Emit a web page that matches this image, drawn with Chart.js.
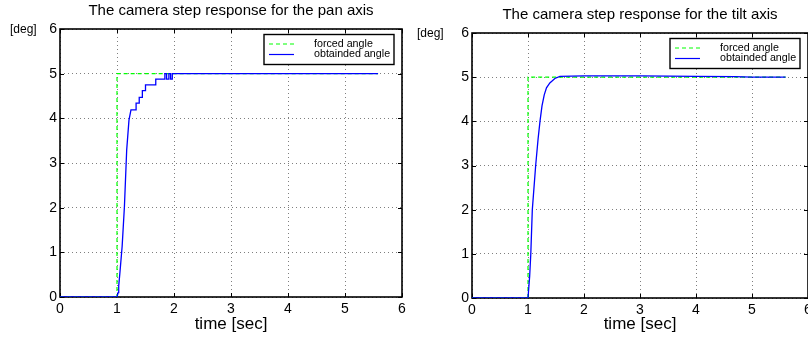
<!DOCTYPE html>
<html lang="en">
<head>
<meta charset="UTF-8">
<title>Camera step response</title>
<script src="https://cdn.jsdelivr.net/npm/chart.js"></script>
<style>
  html, body { margin: 0; padding: 0; background: #fff; overflow: hidden; }
  body { width: 808px; height: 339px; position: relative; }
  canvas { position: absolute; top: 0; }
  #panChart { left: 0; }
  #tiltChart { left: 404px; }
</style>
</head>
<body>
<canvas id="panChart" width="406" height="339"></canvas>
<canvas id="tiltChart" width="420" height="339"></canvas>

<script>
// values
const seriesLabels = ['forced angle', 'obtainded angle'];
const xTicks = [0, 1, 2, 3, 4, 5, 6];
const yTicks = [0, 1, 2, 3, 4, 5, 6];

const panForcedTime = [0, 1, 1, 5.58];
const panForcedAngle = [0, 0, 5, 5];
const panTime = [0, 1.0, 1.02, 1.03, 1.05, 1.09, 1.13, 1.17, 1.21, 1.245, 1.335, 1.335, 1.39, 1.39,
  1.445, 1.445, 1.5, 1.5, 1.68, 1.68, 1.84, 1.84, 1.87, 1.87, 1.91, 1.91, 1.94, 1.94, 1.97, 1.97, 5.58];
const panAngle = [0, 0, 0.1, 0.25, 0.53, 1.13, 2.02, 3.29, 3.96, 4.19, 4.19, 4.34, 4.34, 4.47,
  4.47, 4.62, 4.62, 4.75, 4.75, 4.88, 4.88, 5.0, 5.0, 4.88, 4.88, 5.0, 5.0, 4.88, 4.88, 5.0, 5.0];

const tiltForcedTime = [0, 1, 1, 5.6];
const tiltForcedAngle = [0, 0, 5, 5];
const tiltTime = [0, 1.0, 1.03, 1.05, 1.077, 1.137, 1.18, 1.214, 1.25, 1.29, 1.33, 1.39, 1.48, 1.57, 2.0, 3.0, 4.0, 4.7, 5.0, 5.6];
const tiltAngle = [0, 0, 0.5, 1.0, 2.0, 3.0, 3.6, 4.0, 4.35, 4.6, 4.76, 4.87, 4.97, 5.02, 5.03, 5.03, 5.02, 5.01, 5.0, 5.0];

const FONT = "'Liberation Sans', Arial, Helvetica, sans-serif";

function points(xs, ys) {
  return xs.map((x, i) => ({ x: x, y: ys[i] }));
}

// box round the plot, inside tick marks, unit label and the legend
const framePlugin = {
  id: 'frame',
  beforeDatasetsDraw(chart, args, opts) {
    const { ctx, chartArea: a, scales } = chart;
    ctx.save();
    ctx.strokeStyle = '#000';
    ctx.lineWidth = 1;
    ctx.beginPath();
    scales.x.ticks.forEach(t => {
      const px = Math.round(scales.x.getPixelForValue(t.value)) + 0.5;
      ctx.moveTo(px, a.bottom); ctx.lineTo(px, a.bottom - 4);
      ctx.moveTo(px, a.top); ctx.lineTo(px, a.top + 4);
    });
    scales.y.ticks.forEach(t => {
      const py = Math.round(scales.y.getPixelForValue(t.value)) + 0.5;
      ctx.moveTo(a.left, py); ctx.lineTo(a.left + 4, py);
      ctx.moveTo(a.right, py); ctx.lineTo(a.right - 4, py);
    });
    ctx.stroke();
    ctx.lineWidth = 1.6;
    ctx.strokeRect(a.left, a.top, a.right - a.left, a.bottom - a.top);
    ctx.restore();
  },
  afterDatasetsDraw(chart, args, opts) {
    const { ctx, chartArea: a } = chart;
    ctx.save();
    // [deg]
    ctx.fillStyle = '#000';
    ctx.font = '12px ' + FONT;
    ctx.textBaseline = 'middle';
    ctx.textAlign = 'left';
    ctx.fillText(opts.unit, a.left - opts.unitOffset, a.top + 1);

    // legend
    const bw = 130, bh = 30;
    const bx = a.right - 8 - bw, by = a.top + 5.5;
    ctx.fillStyle = '#fff';
    ctx.fillRect(bx, by, bw, bh);
    ctx.strokeStyle = '#000';
    ctx.lineWidth = 1.4;
    ctx.strokeRect(bx, by, bw, bh);
    ctx.font = '10.7px ' + FONT;
    chart.data.datasets.forEach((ds, i) => {
      const ry = by + 9.5 + i * 10.5;
      ctx.strokeStyle = ds.borderColor;
      ctx.lineWidth = 1.2;
      ctx.setLineDash(ds.borderDash || []);
      ctx.beginPath();
      ctx.moveTo(bx + 5, ry);
      ctx.lineTo(bx + 30, ry);
      ctx.stroke();
      ctx.setLineDash([]);
      ctx.fillStyle = '#000';
      ctx.fillText(ds.label, bx + 50, ry);
    });
    ctx.restore();
  }
};

function makeChart(id, title, forcedT, forcedA, t, a, cfg) {
  const ctx = document.getElementById(id).getContext('2d');
  return new Chart(ctx, {
    type: 'line',
    data: {
      datasets: [
        {
          label: seriesLabels[0],
          data: points(forcedT, forcedA),
          borderColor: '#00ff00',
          borderWidth: 1.2,
          borderDash: [4, 3],
          pointRadius: 0,
          tension: 0,
          order: 1
        },
        {
          label: seriesLabels[1],
          data: points(t, a),
          borderColor: '#0000ff',
          borderWidth: 1.3,
          pointRadius: 0,
          tension: 0,
          order: 0
        }
      ]
    },
    options: {
      responsive: false,
      animation: false,
      layout: { padding: { top: 0, right: cfg.padRight, left: 0, bottom: 0 } },
      scales: {
        x: {
          type: 'linear',
          min: 0,
          max: 6,
          afterBuildTicks: s => { s.ticks = xTicks.map(v => ({ value: v })); },
          afterFit: s => { s.height = cfg.xHeight; s.paddingLeft = 0; s.paddingRight = 0; },
          grid: { color: 'rgba(0,0,0,0.5)', lineWidth: 1, drawTicks: false },
          border: { display: false, dash: [1, 3] },
          ticks: { color: '#000', padding: 4, font: { family: FONT, size: 14 } },
          title: {
            display: true,
            text: 'time [sec]',
            color: '#000',
            font: { family: FONT, size: 17 },
            padding: { top: 0, bottom: 4 }
          }
        },
        y: {
          min: 0,
          max: 6,
          afterBuildTicks: s => { s.ticks = yTicks.map(v => ({ value: v })); },
          afterFit: s => { s.width = cfg.yWidth; s.paddingTop = 0; s.paddingBottom = 0; },
          grid: { color: 'rgba(0,0,0,0.5)', lineWidth: 1, drawTicks: false },
          border: { display: false, dash: [1, 3] },
          ticks: { color: '#000', padding: 3, font: { family: FONT, size: 14 } }
        }
      },
      plugins: {
        legend: { display: false },
        tooltip: { enabled: false },
        title: {
          display: true,
          text: title,
          fullSize: false,
          color: '#000',
          font: { family: FONT, size: 15, weight: 'normal' },
          padding: { top: cfg.titleTop, bottom: 9 }
        },
        frame: { unit: '[deg]', unitOffset: cfg.unitOffset }
      }
    },
    plugins: [framePlugin]
  });
}

makeChart('panChart', 'The camera step response for the pan axis',
  panForcedTime, panForcedAngle, panTime, panAngle,
  { padRight: 4, xHeight: 42, yWidth: 60, titleTop: 2, unitOffset: 50 });

makeChart('tiltChart', 'The camera step response for the tilt axis',
  tiltForcedTime, tiltForcedAngle, tiltTime, tiltAngle,
  { padRight: 16, xHeight: 41, yWidth: 68, titleTop: 6, unitOffset: 55 });
</script>
</body>
</html>
